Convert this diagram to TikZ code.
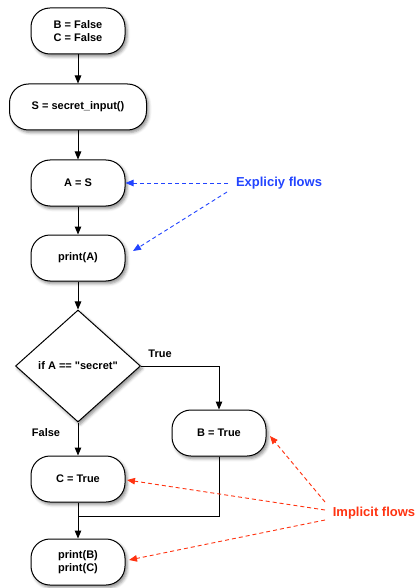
\documentclass[tikz,border=0pt]{standalone}
\usepackage{fontspec}
\setmainfont{Liberation Sans}
\usetikzlibrary{shapes.geometric,shadows.blur,arrows.meta}
\definecolor{flowblue}{RGB}{34,68,255}
\definecolor{flowred}{RGB}{255,51,17}
\begin{document}
\begin{tikzpicture}[x=1pt,y=-1pt,
  every node/.style={font=\fontsize{11}{13}\selectfont\bfseries},
  stepbox/.style={draw=black,line width=1pt,fill=white,rounded corners=19pt,
    minimum width=94pt,minimum height=46pt,align=center,inner sep=2pt,
    blur shadow={shadow xshift=2pt,shadow yshift=-2.5pt,shadow blur radius=3pt,shadow opacity=45}},
  decision/.style={draw=black,line width=1pt,fill=white,diamond,inner sep=0pt,
    minimum width=125pt,minimum height=112pt,
    blur shadow={shadow xshift=2pt,shadow yshift=-2.5pt,shadow blur radius=3pt,shadow opacity=45}},
  flow/.style={line width=1pt,-{Triangle[length=8pt,width=6.5pt]}},
  hint/.style={line width=0.9pt,dash pattern=on 4pt off 3pt,-{Triangle[length=8pt,width=6.5pt]}},
  hintlabel/.style={font=\fontsize{13}{15}\selectfont\bfseries}]
\useasboundingbox (0,0) rectangle (417,588);

% flowchart nodes
\node[stepbox] (init) at (78,31) {B = False\\C = False};
\node[stepbox,minimum width=137pt] (input) at (78,107) {S = secret\_input()};
\node[stepbox] (assign) at (78,183) {A = S};
\node[stepbox] (printa) at (78,258) {print(A)};
\node[decision] (test) at (78,366) {if A == \textquotedbl secret\textquotedbl};
\node[stepbox] (btrue) at (219,433) {B = True};
\node[stepbox] (ctrue) at (78,479) {C = True};
\node[stepbox] (printbc) at (78,562) {print(B)\\print(C)};

% control flow
\draw[flow] (init) -- (input);
\draw[flow] (input) -- (assign);
\draw[flow] (assign) -- (printa);
\draw[flow] (printa) -- (test);
\draw[flow] (test.east) -| (btrue.north);
\draw[flow] (test.south) -- (ctrue.north);
\draw[flow] (ctrue.south) -- (printbc.north);
\coordinate (join) at (78,516);
\draw[line width=1pt] (btrue.south) |- (join);

\node (truelbl) at (160,354) {True};
\node (falselbl) at (46,433) {False};

% explicit flow annotations
\node[hintlabel,text=flowblue] (explicit) at (279,183) {Expliciy flows};
\coordinate (e1) at (228,183);
\coordinate (e2) at (227,192);
\coordinate (e2end) at (133,251);
\draw[hint,flowblue] (e1) -- (assign.east);
\draw[hint,flowblue] (e2) -- (e2end);

% implicit flow annotations
\node[hintlabel,text=flowred] (implicit) at (374,513) {Implicit flows};
\coordinate (i1) at (325,502);
\coordinate (i1end) at (270,436);
\coordinate (i2) at (325,510);
\coordinate (i2end) at (127,480);
\coordinate (i3) at (325,520);
\coordinate (i3end) at (129,560);
\draw[hint,flowred] (i1) -- (i1end);
\draw[hint,flowred] (i2) -- (i2end);
\draw[hint,flowred] (i3) -- (i3end);
\end{tikzpicture}
\end{document}
